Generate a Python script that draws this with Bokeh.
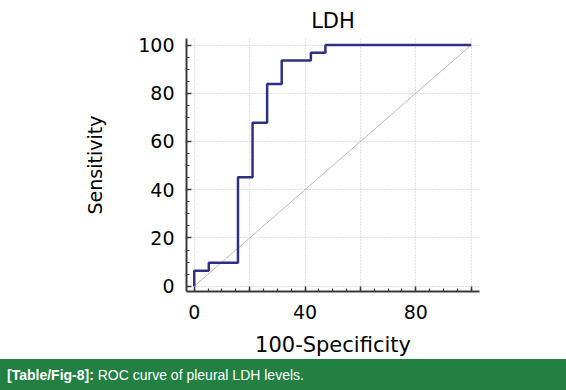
from bokeh.plotting import figure
from bokeh.models import Range1d, Div, FixedTicker
from bokeh.layouts import column
from bokeh.embed import file_html
from bokeh.resources import INLINE

# ROC curve vertices (100-Specificity, Sensitivity)
fpr = [0, 0, 5.26, 5.26, 15.79, 15.79, 21.05, 21.05, 26.32, 26.32, 31.58, 31.58, 42.11, 42.11, 47.37, 47.37, 100]
tpr = [0, 6.45, 6.45, 9.68, 9.68, 45.16, 45.16, 67.74, 67.74, 83.87, 83.87, 93.55, 93.55, 96.77, 96.77, 100, 100]
diag_x = [0, 100]
diag_y = [0, 100]
major_ticks = [0, 20, 40, 60, 80, 100]
x_labels = {20: "", 60: "", 100: ""}
title_text = "LDH"
x_title = "100-Specificity"
y_title = "Sensitivity"
caption_bold = "[Table/Fig-8]:"
caption_rest = " ROC curve of pleural LDH levels."

FONT = "DejaVu Sans"

p = figure(width=566, height=359, output_backend="svg", toolbar_location=None,
           x_range=Range1d(-2.8, 103), y_range=Range1d(-2.2, 102.7),
           min_border_left=186, min_border_right=87, min_border_top=38, min_border_bottom=66,
           title=title_text, margin=0)
p.outline_line_color = None
p.background_fill_color = "white"
p.border_fill_color = "white"

p.title.align = "center"
p.title.text_font = FONT
p.title.text_font_size = "21px"
p.title.text_font_style = "normal"
p.title.text_color = "black"
p.title.standoff = 12

for ax in (p.xaxis[0], p.yaxis[0]):
    ax.ticker = FixedTicker(ticks=major_ticks, minor_ticks=list(range(0, 101, 5)))
    ax.axis_line_width = 2
    ax.axis_line_color = "#3a3a3a"
    ax.major_tick_line_color = "#3a3a3a"
    ax.minor_tick_line_color = "#3a3a3a"
    ax.major_tick_line_width = 1.5
    ax.minor_tick_line_width = 1.2
    ax.major_tick_in = 5
    ax.major_tick_out = 0
    ax.minor_tick_in = 3
    ax.minor_tick_out = 0
    ax.major_label_text_font = FONT
    ax.major_label_text_font_size = "19px"
    ax.major_label_text_color = "black"
    ax.axis_label_text_font = FONT
    ax.axis_label_text_font_style = "normal"
    ax.axis_label_text_color = "black"

p.xaxis.axis_label = x_title
p.yaxis.axis_label = y_title
p.xaxis.axis_label_text_font_size = "21px"
p.yaxis.axis_label_text_font_size = "19px"
p.xaxis.major_label_overrides = x_labels
p.xaxis.major_label_standoff = 13
p.yaxis.major_label_standoff = 12
p.xaxis.axis_label_standoff = 11
p.yaxis.axis_label_standoff = 29

for g in (p.xgrid[0], p.ygrid[0]):
    g.grid_line_color = "#c4c4c4"
    g.grid_line_dash = "1 2"
    g.grid_line_width = 1

p.line(diag_x, diag_y, line_color="#aaaaaa", line_width=0.8)
p.line(fpr, tpr, line_color="#2e3182", line_width=2.5)

cap = Div(text=f"<b>{caption_bold}</b>{caption_rest}", width=566, height=31, margin=0,
          styles={"background-color": "#218042", "color": "white",
                  "font-family": "'Liberation Sans', Arial, sans-serif",
                  "font-size": "14px", "padding-left": "7px", "padding-top": "8px",
                  "box-sizing": "border-box", "line-height": "16px", "overflow": "hidden"})

layout = column(p, cap, spacing=0, margin=0,
                styles={"outline": "1px solid #3b7b52", "outline-offset": "-2px"})
open("out.html", "w").write(file_html(layout, INLINE))
